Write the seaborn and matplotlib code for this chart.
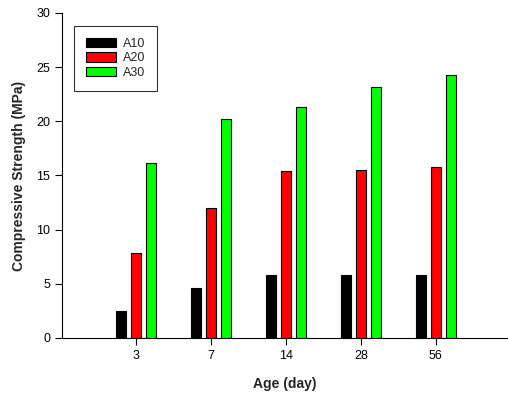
import pandas as pd
import seaborn as sns
import matplotlib.pyplot as plt

## data
ages = ['3', '7', '14', '28', '56']
a10 = [2.5, 4.6, 5.8, 5.85, 5.85]
a20 = [7.85, 12.0, 15.4, 15.5, 15.8]
a30 = [16.15, 20.2, 21.3, 23.2, 24.3]

df = pd.DataFrame({'age': ages * 3,
                   'strength': a10 + a20 + a30,
                   'mix': ['A10'] * 5 + ['A20'] * 5 + ['A30'] * 5})

sns.set_style('ticks')
plt.rcParams['font.family'] = ['Liberation Sans', 'DejaVu Sans']

fig = plt.figure(figsize=(5.08, 3.93), dpi=100)
ax = fig.add_axes([0.122, 0.14, 0.876, 0.827])

sns.barplot(data=df, x='age', y='strength', hue='mix', order=ages,
            palette=['#000000', '#ff0000', '#00ff00'], saturation=1,
            width=0.6, gap=0.33, edgecolor='black', linewidth=0.8, ax=ax)

ax.set_xlim(-0.99, 4.95)
ax.set_ylim(0, 30)
ax.set_yticks([0, 5, 10, 15, 20, 25, 30])
ax.tick_params(labelsize=9, length=5, width=0.8, colors='black')
ax.set_xlabel('Age (day)', fontsize=10, fontweight='bold', labelpad=11)
ax.set_ylabel('Compressive Strength (MPa)', fontsize=10, fontweight='bold', labelpad=7)
sns.despine(ax=ax)
for s in ['left', 'bottom']:
    ax.spines[s].set_linewidth(0.8)
    ax.spines[s].set_color('black')

leg = ax.legend(loc='upper left', bbox_to_anchor=(0.027, 0.96), borderaxespad=0,
                fontsize=9, frameon=True, fancybox=False, edgecolor='black',
                handlelength=2.4, handleheight=0.75, labelspacing=0.2,
                borderpad=0.95, handletextpad=0.55)
leg.get_frame().set_linewidth(0.8)

plt.savefig('out.png', dpi=100)
